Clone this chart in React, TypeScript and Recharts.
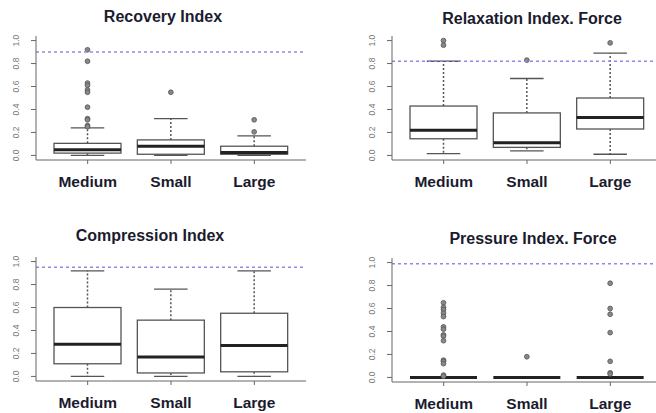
import React from 'react';
import { ComposedChart, XAxis, YAxis, Bar, ReferenceLine } from 'recharts';

const categories = ['Medium', 'Small', 'Large'];
const yTicks = [0, 0.2, 0.4, 0.6, 0.8, 1.0];

// Recovery Index
const recLow = [0, 0, 0];
const recQ1 = [0.02, 0.01, 0.01];
const recMedian = [0.05, 0.08, 0.025];
const recQ3 = [0.105, 0.135, 0.08];
const recHigh = [0.24, 0.32, 0.17];
const recOutliers = [[0.92, 0.82, 0.63, 0.61, 0.57, 0.55, 0.42, 0.32, 0.31, 0.26, 0.25], [0.55], [0.31, 0.205]];
const recLimit = 0.9;

// Relaxation Index. Force
const relLow = [0.015, 0.04, 0.01];
const relQ1 = [0.145, 0.07, 0.23];
const relMedian = [0.22, 0.11, 0.33];
const relQ3 = [0.43, 0.37, 0.5];
const relHigh = [0.82, 0.67, 0.89];
const relOutliers = [[1.0, 0.96], [0.83], [0.98]];
const relLimit = 0.82;

// Compression Index
const compLow = [0, 0, 0];
const compQ1 = [0.11, 0.03, 0.04];
const compMedian = [0.28, 0.17, 0.27];
const compQ3 = [0.6, 0.49, 0.55];
const compHigh = [0.92, 0.76, 0.92];
const compOutliers = [[], [], []];
const compLimit = 0.95;

// Pressure Index. Force
const presLow = [0, 0, 0];
const presQ1 = [0, 0, 0];
const presMedian = [0, 0, 0];
const presQ3 = [0, 0, 0];
const presHigh = [0, 0, 0];
const presOutliers = [
  [0.65, 0.61, 0.59, 0.56, 0.53, 0.44, 0.42, 0.37, 0.36, 0.32, 0.15, 0.14, 0.12, 0.02, 0.01],
  [0.18],
  [0.82, 0.6, 0.55, 0.39, 0.14, 0.04, 0.03],
];
const presLimit = 0.99;

// every box is drawn against this span so its values go through the y scale
const UNIT_SPAN = [0, 1];

const buildRows = (lo: number[], q1: number[], med: number[], q3: number[], hi: number[], out: number[][]) =>
  categories.map((name, i) => ({ name, lo: lo[i], q1: q1[i], med: med[i], q3: q3[i], hi: hi[i], out: out[i] }));

const panels = [
  { title: 'Recovery Index', left: 36, top: 36, titleDx: -8, titleDy: -19, limit: recLimit,
    rows: buildRows(recLow, recQ1, recMedian, recQ3, recHigh, recOutliers) },
  { title: 'Relaxation Index. Force', left: 392, top: 36, titleDx: 5, titleDy: -17, limit: relLimit,
    rows: buildRows(relLow, relQ1, relMedian, relQ3, relHigh, relOutliers) },
  { title: 'Compression Index', left: 36, top: 257, titleDx: -21, titleDy: -21, limit: compLimit,
    rows: buildRows(compLow, compQ1, compMedian, compQ3, compHigh, compOutliers) },
  { title: 'Pressure Index. Force', left: 392, top: 258, titleDx: 6, titleDy: -19, limit: presLimit,
    rows: buildRows(presLow, presQ1, presMedian, presQ3, presHigh, presOutliers) },
];

const FONT = '"Liberation Sans", Arial, sans-serif';

const BoxShape = (props: any) => {
  const { x, y, width, height, payload } = props;
  const yOf = (v: number) => y + height * (1 - v);
  const cx = x + width / 2;
  const cap = width / 4;
  return (
    <g>
      <line x1={cx} x2={cx} y1={yOf(payload.q3)} y2={yOf(payload.hi)} stroke="#555" strokeDasharray="2 2" strokeWidth={1.5} />
      <line x1={cx} x2={cx} y1={yOf(payload.q1)} y2={yOf(payload.lo)} stroke="#555" strokeDasharray="2 2" strokeWidth={1.5} />
      <line x1={cx - cap} x2={cx + cap} y1={yOf(payload.hi)} y2={yOf(payload.hi)} stroke="#555" strokeWidth={1.3} />
      <line x1={cx - cap} x2={cx + cap} y1={yOf(payload.lo)} y2={yOf(payload.lo)} stroke="#555" strokeWidth={1.3} />
      <rect x={x} y={yOf(payload.q3)} width={width} height={yOf(payload.q1) - yOf(payload.q3)} fill="#fff" stroke="#555" strokeWidth={1.3} />
      <line x1={x} x2={x + width} y1={yOf(payload.med)} y2={yOf(payload.med)} stroke="#222" strokeWidth={3} />
      {payload.out.map((v: number, i: number) => (
        <circle key={i} cx={cx} cy={yOf(v)} r={2.4} fill="#888" stroke="#555" strokeWidth={0.8} />
      ))}
    </g>
  );
};

const YTick = (props: any) => {
  const { x, y, payload } = props;
  return (
    <g transform={`translate(${x - 10},${y}) rotate(-90)`}>
      <text x={0} y={0} textAnchor="middle" fontSize={8.5} fill="#777" fontFamily={FONT}>
        {Number(payload.value).toFixed(1)}
      </text>
    </g>
  );
};

const XTick = (props: any) => {
  const { x, y, payload } = props;
  return (
    <text x={x} y={y + 21} textAnchor="middle" fontSize={15.5} fontWeight="bold" fill="#1b1b2f" fontFamily={FONT}>
      {payload.value}
    </text>
  );
};

const Panel = ({ p }: { p: typeof panels[number] }) => {
  const axisW = 36;
  const plotW = 270;
  const plotH = 124;
  return (
    <>
      <div style={{ position: 'absolute', left: p.left + p.titleDx, top: p.top + p.titleDy - 10, width: plotW,
        textAlign: 'center', font: `bold 16px ${FONT}`, color: '#1b1b2f', lineHeight: '19px' }}>
        {p.title}
      </div>
      <div style={{ position: 'absolute', left: p.left - axisW, top: p.top - 36 }}>
        <ComposedChart width={axisW + plotW + 4} height={36 + plotH + 40} data={p.rows}
          margin={{ top: 36, right: 4, bottom: 6, left: 0 }}>
          <XAxis dataKey="name" type="category" height={34} padding={{ left: 10, right: 10 }}
            stroke="#666" tickSize={4} tickMargin={2} tick={<XTick />} interval={0} />
          <XAxis xAxisId="t" dataKey="name" orientation="top" height={0} stroke="#666"
            tick={false} tickLine={false} padding={{ left: 10, right: 10 }} />
          <YAxis type="number" domain={[-0.04, 1.04]} ticks={yTicks} allowDataOverflow width={axisW}
            stroke="#666" tickSize={5} tickMargin={2} tick={<YTick />} interval={0} />
          <YAxis yAxisId="r" orientation="right" type="number" domain={[-0.04, 1.04]} allowDataOverflow
            width={0} stroke="#666" tick={false} tickLine={false} />
          <ReferenceLine y={p.limit} stroke="#8c8ce8" strokeDasharray="3 3" strokeWidth={1.5} />
          <Bar dataKey={() => UNIT_SPAN} barSize={67} shape={<BoxShape />} isAnimationActive={false} />
        </ComposedChart>
      </div>
    </>
  );
};

export default function App() {
  return (
    <div style={{ position: 'absolute', left: 0, top: 0, width: 656, height: 413, overflow: 'hidden', background: '#fff' }}>
      {panels.map((p) => <Panel key={p.title} p={p} />)}
    </div>
  );
}
